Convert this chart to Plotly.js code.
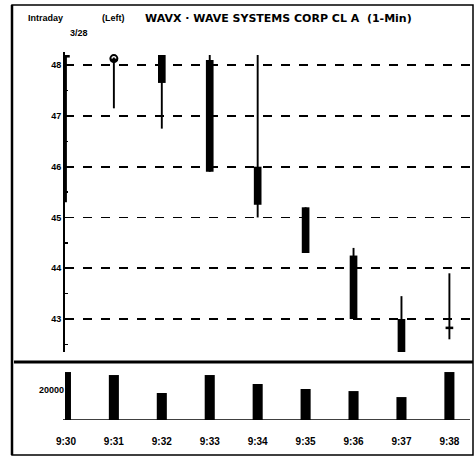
<!DOCTYPE html>
<html>
<head>
<meta charset="utf-8">
<script src="https://cdn.plot.ly/plotly-3.0.1.min.js"></script>
<style>html,body{margin:0;padding:0;background:#fff;}#chart{width:475px;height:464px;}</style>
</head>
<body>
<div id="chart"></div>
<script>
// ---- data ----
var times  = ["9:30","9:31","9:32","9:33","9:34","9:35","9:36","9:37","9:38"];
var open   = [48.2, 48.13, 48.2, 48.1, 46.0, 45.2, 44.25, 43.0, 42.85];
var high   = [48.2, 48.15, 48.2, 48.2, 48.2, 45.2, 44.4, 43.45, 43.9];
var low    = [45.3, 47.15, 46.75, 45.9, 45.0, 44.3, 43.0, 42.3, 42.6];
var close  = [48.15, 48.08, 47.65, 45.9, 45.25, 44.3, 43.0, 42.35, 42.8];
var volume = [32000, 30000, 18000, 30000, 24000, 20700, 19300, 15300, 32000];
var dojiTimes = ["9:31"];
var dojiPrice = [48.13];
var priceTicks = [43, 44, 45, 46, 47, 48];
var volTicks = [20000];

// derived arrays for bar-drawn candles
var wickBase = [], wickLen = [], bodyBase = [], bodyLen = [];
for (var i = 0; i < times.length; i++) {
  wickBase.push(low[i]);
  wickLen.push(high[i] - low[i]);
  var lo = Math.min(open[i], close[i]);
  bodyBase.push(lo);
  bodyLen.push(Math.max(Math.abs(open[i] - close[i]), 0.04));
}

var F = "Liberation Sans, Arial, sans-serif";
var FT = "DejaVu Sans, Liberation Sans, sans-serif";

var traces = [
  {type:"bar", x:times, y:wickLen, base:wickBase, width:0.04,
   marker:{color:"#000", line:{width:0}}, xaxis:"x", yaxis:"y", hoverinfo:"skip"},
  {type:"bar", x:times, y:bodyLen, base:bodyBase, width:0.16,
   marker:{color:"#000", line:{width:0}}, xaxis:"x", yaxis:"y", hoverinfo:"skip"},
  {type:"scatter", mode:"markers", x:dojiTimes, y:dojiPrice,
   marker:{symbol:"circle-open", size:7, color:"#000", line:{width:2, color:"#000"}},
   xaxis:"x", yaxis:"y", hoverinfo:"skip"},
  {type:"bar", x:times, y:volume, width:0.21,
   marker:{color:"#000", line:{width:0}}, xaxis:"x", yaxis:"y2", hoverinfo:"skip"}
];

var layout = {
  width:475, height:464,
  margin:{l:0, r:0, t:0, b:0},
  paper_bgcolor:"#fff", plot_bgcolor:"#fff",
  showlegend:false, barmode:"overlay",
  font:{family:F, color:"#000", size:9},
  xaxis:{
    type:"category", domain:[0.1368, 0.9895], range:[-0.02, 8.43],
    anchor:"y2", showgrid:false, zeroline:false, showline:false,
    ticks:"", ticklabelstandoff:14,
    tickfont:{family:F, size:10, color:"#000", weight:"bold"}
  },
  yaxis:{
    domain:[0.2414, 0.888], range:[42.35, 48.26], anchor:"x",
    tickvals:priceTicks, ticktext:priceTicks.map(String),
    showgrid:true, gridcolor:"#000", gridwidth:1.8, griddash:"dash",
    zeroline:false, showline:true, linecolor:"#000", linewidth:2,
    ticks:"inside", ticklen:4, tickwidth:1.5, tickcolor:"#000",
    minor:{dtick:0.5, tick0:42.5, ticks:"inside", ticklen:3, tickcolor:"#000", showgrid:false},
    tickfont:{family:F, size:9, color:"#000", weight:"bold"}
  },
  yaxis2:{
    domain:[0.0948, 0.2134], range:[0, 36700], anchor:"x",
    tickvals:volTicks, ticktext:volTicks.map(String),
    showgrid:false, zeroline:false, showline:false, ticks:"",
    tickfont:{family:F, size:9, color:"#000", weight:"bold"}
  },
  shapes:[
    {type:"rect", xref:"paper", yref:"paper", x0:12/475, x1:473/475, y0:(464-455)/464, y1:(464-5)/464,
     line:{color:"#000", width:1.5}},
    {type:"line", xref:"paper", yref:"paper", x0:12/475, x1:12/475, y0:(464-455)/464, y1:(464-5)/464,
     line:{color:"#000", width:2.5}},
    {type:"line", xref:"paper", yref:"paper", x0:14/475, x1:473/475, y0:(464-362)/464, y1:(464-362)/464,
     line:{color:"#000", width:3}},
    {type:"line", xref:"paper", yref:"y2", x0:63/475, x1:470/475, y0:0, y1:0,
     line:{color:"#000", width:1.5}}
  ],
  annotations:[
    {xref:"paper", yref:"paper", x:26/475, y:(464-18)/464, xanchor:"left", yanchor:"middle",
     text:"Intraday", showarrow:false, font:{family:F, size:9, weight:"bold"}},
    {xref:"paper", yref:"paper", x:100/475, y:(464-18)/464, xanchor:"left", yanchor:"middle",
     text:"(Left)", showarrow:false, font:{family:F, size:9, weight:"bold"}},
    {xref:"paper", yref:"paper", x:143/475, y:(464-18)/464, xanchor:"left", yanchor:"middle",
     text:"WAVX · WAVE SYSTEMS CORP CL A  (1-Min)", showarrow:false, font:{family:FT, size:11, weight:"bold"}},
    {xref:"paper", yref:"paper", x:68/475, y:(464-33)/464, xanchor:"left", yanchor:"middle",
     text:"3/28", showarrow:false, font:{family:F, size:9, weight:"bold"}}
  ]
};

Plotly.newPlot("chart", traces, layout, {staticPlot:true, displayModeBar:false});
</script>
</body>
</html>
